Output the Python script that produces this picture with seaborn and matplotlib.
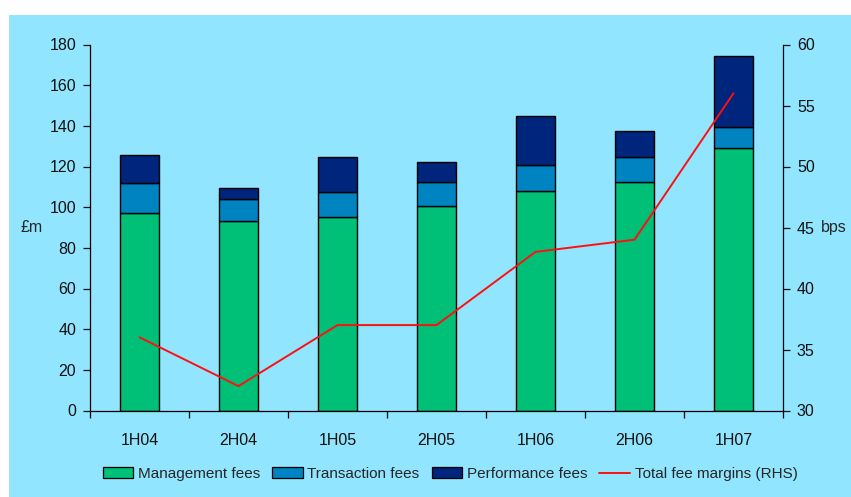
import numpy as np
import pandas as pd
import matplotlib
matplotlib.use("Agg")
import matplotlib.pyplot as plt
from matplotlib.patches import Rectangle, Patch
from matplotlib.lines import Line2D
import seaborn as sns

# values
periods = ["1H04", "2H04", "1H05", "2H05", "1H06", "2H06", "1H07"]
management = [97, 93.3, 95.1, 100.5, 108, 112.3, 129]
transaction = [14.8, 10.5, 12.6, 11.8, 12.7, 12.3, 10.4]
performance = [13.8, 5.6, 17.1, 10, 24.1, 13.1, 35.1]
margin_bps = [36, 32, 37, 37, 43, 44, 56]

bg = "#91E5FF"
green = "#00C077"
midblue = "#0083C1"
navy = "#00257D"
fs = 11.5

sns.set_theme(style="ticks")
plt.rcParams["font.family"] = ["Liberation Sans", "DejaVu Sans"]
plt.rcParams["font.size"] = fs

df = pd.DataFrame({"period": periods, "mgmt": management,
                   "trans": transaction, "perf": performance})
df["mgmt_trans"] = df["mgmt"] + df["trans"]

fig = plt.figure(figsize=(8.51, 4.97), dpi=100, facecolor="white")
fig.patches.append(Rectangle((9 / 851, 0), 1 - 9 / 851, 1 - 15 / 497,
                             transform=fig.transFigure, facecolor=bg,
                             edgecolor="none", zorder=-10))
ax = fig.add_axes([90 / 851, 1 - 410.5 / 497, 693 / 851, 366 / 497])
ax.set_facecolor(bg)

bar_kw = dict(width=0.4, edgecolor="black", linewidth=1.0, ax=ax)
sns.barplot(data=df, x="period", y="mgmt", color=green, saturation=1, **bar_kw)
sns.barplot(data=df, x="period", y="trans", bottom=df["mgmt"], color=midblue,
            saturation=1, **bar_kw)
sns.barplot(data=df, x="period", y="perf", bottom=df["mgmt_trans"], color=navy,
            saturation=1, **bar_kw)

ax.set_xlim(-0.5, 6.5)
ax.set_ylim(0, 180)
ax.set_yticks(range(0, 181, 20))
ax.set_xticks(range(len(periods)))
ax.set_xticklabels(periods)
ax.set_xticks(np.arange(-0.5, 7, 1), minor=True)
ax.tick_params(axis="x", which="major", length=0, pad=16, labelsize=fs, colors="#111111")
ax.tick_params(axis="x", which="minor", length=5, width=0.9, direction="out", color="black")
ax.tick_params(axis="y", length=5, width=0.9, pad=5, labelsize=fs, colors="#111111")
ax.set_xlabel("")
ax.set_ylabel("£m", rotation=0, fontsize=fs, ha="center", va="center")
ax.yaxis.set_label_coords(-0.084, 0.5)
for s in ["left", "bottom"]:
    ax.spines[s].set_color("black")
    ax.spines[s].set_linewidth(0.9)
ax.spines["top"].set_visible(False)
ax.spines["right"].set_visible(False)

ax2 = ax.twinx()
sns.lineplot(x=periods, y=margin_bps, sort=False, color="#FF1010", linewidth=1.4, ax=ax2)
ax2.set_ylim(30, 60)
ax2.set_yticks(range(30, 61, 5))
ax2.tick_params(axis="y", length=5, width=0.9, pad=5, labelsize=fs, colors="#111111")
ax2.set_ylabel("bps", rotation=0, fontsize=fs, ha="center", va="center")
ax2.yaxis.set_label_coords(1.073, 0.5)
ax2.spines["top"].set_visible(False)
ax2.spines["left"].set_visible(False)
ax2.spines["bottom"].set_visible(False)
ax2.spines["right"].set_color("black")
ax2.spines["right"].set_linewidth(0.9)
ax.set_xlim(-0.5, 6.5)

handles = [Patch(facecolor=green, edgecolor="black", linewidth=0.9),
           Patch(facecolor=midblue, edgecolor="black", linewidth=0.9),
           Patch(facecolor=navy, edgecolor="black", linewidth=0.9),
           Line2D([], [], color="#FF1010", linewidth=1.4)]
labels = ["Management fees", "Transaction fees", "Performance fees",
          "Total fee margins (RHS)"]
fig.legend(handles, labels, loc="center", bbox_to_anchor=(450 / 851, 1 - 474 / 497),
           ncol=4, frameon=False, fontsize=11, handlelength=2.0, handleheight=0.7,
           handletextpad=0.3, columnspacing=0.8)

fig.savefig("out.png", dpi=100, facecolor="white")
